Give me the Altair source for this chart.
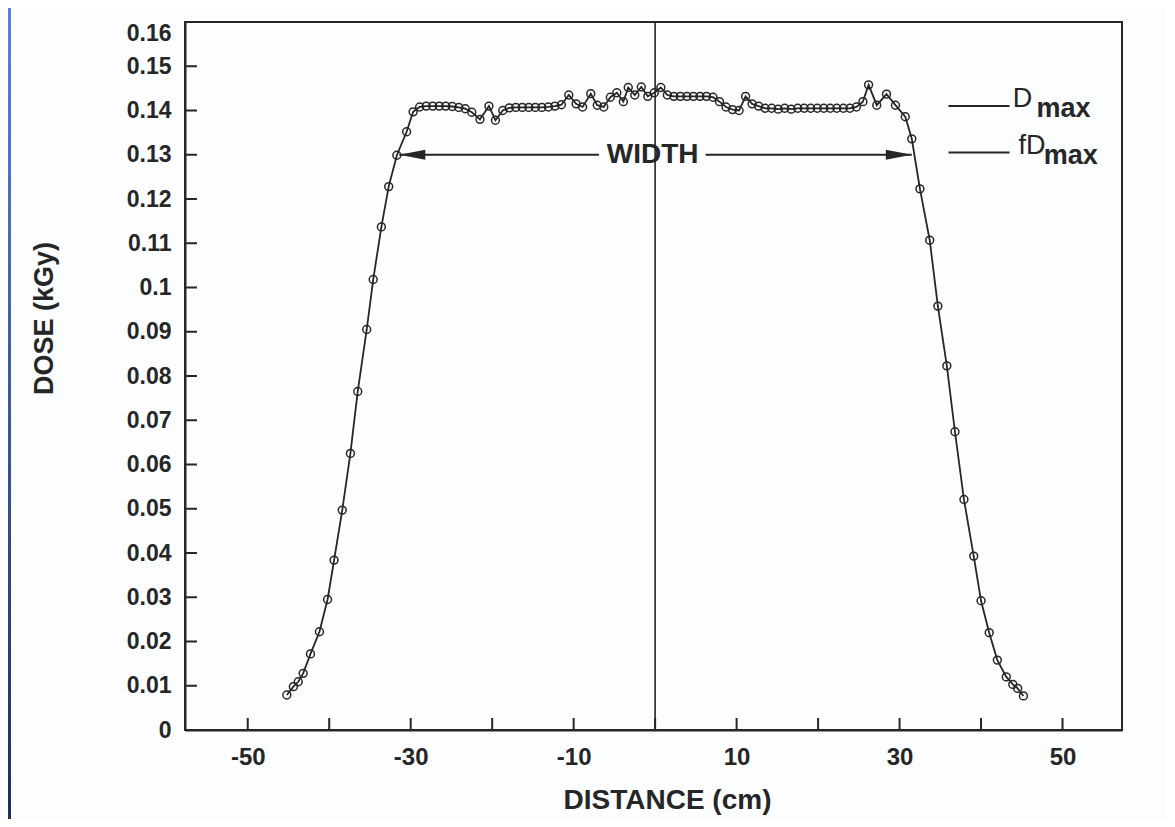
import altair as alt
import pandas as pd

# ---------------- data ----------------
distance = [
    -45.2, -44.4, -43.8, -43.2, -42.3, -41.2, -40.2, -39.4, -38.4, -37.4,
    -36.5, -35.4, -34.6, -33.6, -32.7, -31.7, -30.5, -29.7,
    -28.9, -28.1, -27.3, -26.5, -25.7, -24.9, -24.1, -23.3, -22.5, -21.5,
    -20.4, -19.6, -18.7, -17.9, -17.1, -16.3, -15.5, -14.7, -13.9, -13.1,
    -12.3, -11.5, -10.6, -9.7, -8.9, -7.9, -7.1, -6.3, -5.5, -4.7,
    -3.9, -3.3, -2.5, -1.7, -0.9, -0.1, 0.7, 1.5, 2.3, 3.1,
    3.9, 4.7, 5.5, 6.3, 7.1, 7.9, 8.7, 9.5, 10.3, 11.1,
    11.9, 12.7, 13.5, 14.3, 15.1, 15.9, 16.7, 17.5, 18.3, 19.1,
    19.9, 20.7, 21.5, 22.3, 23.1, 23.9, 24.7, 25.5, 26.2, 27.2,
    28.4, 29.5, 30.7, 31.5, 32.5, 33.7, 34.7, 35.8, 36.8, 37.9,
    39.1, 40.0, 41.0, 42.0, 43.1, 43.9, 44.5, 45.2,
]
dose = [
    0.0079, 0.0098, 0.0109, 0.0128, 0.0172, 0.0222, 0.0295, 0.0384, 0.0497, 0.0625,
    0.0765, 0.0905, 0.1018, 0.1137, 0.1228, 0.1299, 0.1352, 0.1397,
    0.1408, 0.1410, 0.1410, 0.1410, 0.1410, 0.1409, 0.1407, 0.1404, 0.1396, 0.1380,
    0.1410, 0.1378, 0.1400, 0.1406, 0.1407, 0.1407, 0.1407, 0.1407, 0.1407, 0.1408,
    0.1410, 0.1413, 0.1435, 0.1415, 0.1408, 0.1438, 0.1412, 0.1408, 0.1430, 0.1440,
    0.1420, 0.1452, 0.1435, 0.1453, 0.1432, 0.1440, 0.1452, 0.1435, 0.1432, 0.1432,
    0.1432, 0.1432, 0.1432, 0.1432, 0.1430, 0.1420, 0.1408, 0.1402, 0.1400, 0.1432,
    0.1415, 0.1410, 0.1405, 0.1405, 0.1403, 0.1405, 0.1403, 0.1405, 0.1405, 0.1405,
    0.1405, 0.1405, 0.1405, 0.1405, 0.1405, 0.1405, 0.1408, 0.1420, 0.1458, 0.1412,
    0.1437, 0.1412, 0.1386, 0.1336, 0.1223, 0.1107, 0.0958, 0.0823, 0.0674, 0.0521,
    0.0393, 0.0292, 0.0220, 0.0158, 0.0120, 0.0103, 0.0094, 0.0077,
]

x_tick_values = [-50, -40, -30, -20, -10, 0, 10, 20, 30, 40, 50]
x_label_values = [-50, -30, -10, 10, 30, 50]
y_tick_values = [0.0, 0.01, 0.02, 0.03, 0.04, 0.05, 0.06, 0.07, 0.08,
                 0.09, 0.1, 0.11, 0.12, 0.13, 0.14, 0.15, 0.16]
y_inner_ticks = [0.01, 0.02, 0.03, 0.04, 0.05, 0.06, 0.07, 0.08,
                 0.09, 0.1, 0.11, 0.12, 0.13, 0.14, 0.15]

d_max = 0.141
fd_max = 0.1305
width_level = 0.1300
width_left, width_right = -31.4, 31.5
width_gap_left, width_gap_right = -6.9, 6.2

# ---------------- styling ----------------
INK = "#262626"
FONT = "Liberation Sans"
W, H = 937, 708
XS = alt.Scale(domain=[-57.7, 57.3], nice=False, zero=False)
YS = alt.Scale(domain=[0, 0.16], nice=False, zero=False)

df = pd.DataFrame({"distance": distance, "dose": dose})

x_axis = alt.Axis(
    values=x_label_values, labelExpr="toString(datum.value)",
    ticks=False, tickSize=0, grid=False, domain=True, domainColor=INK, domainWidth=2,
    labelFont=FONT, labelFontSize=24, labelFontWeight="bold", labelColor=INK,
    labelPadding=15, labelFlush=False, labelOverlap=False,
    title="DISTANCE (cm)", titleFont=FONT, titleFontSize=28, titleFontWeight="bold",
    titleColor=INK, titleX=482, titleY=70, titleAlign="center", titleBaseline="middle",
)
y_axis = alt.Axis(
    values=y_tick_values, format="~g",
    ticks=False, tickSize=0, grid=False, domain=True, domainColor=INK, domainWidth=2,
    labelFont=FONT, labelFontSize=23, labelFontWeight="bold", labelColor=INK,
    labelPadding=14, labelFlush=False, labelOverlap=False,
    labelBaseline={"condition": {"test": "datum.value >= 0.155", "value": "top"}, "value": "middle"},
    title="DOSE (kGy)", titleFont=FONT, titleFontSize=27, titleFontWeight="bold",
    titleColor=INK, titleX=-141, titleY=296, titleAngle=270,
    titleAlign="center", titleBaseline="middle",
)


def X(field):
    return alt.X(field, scale=XS, axis=x_axis)


def Y(field):
    return alt.Y(field, scale=YS, axis=y_axis)


line = alt.Chart(df).mark_line(color=INK, strokeWidth=1.8).encode(
    x=X("distance:Q"), y=Y("dose:Q"),
)
points = alt.Chart(df).mark_point(
    shape="circle", filled=False, size=62, color=INK, strokeWidth=1.5, opacity=1
).encode(x=X("distance:Q"), y=Y("dose:Q"))

# inward ticks
yt = alt.Chart(pd.DataFrame({"v": y_inner_ticks})).mark_rule(color=INK, strokeWidth=2).encode(
    y=Y("v:Q"), x=alt.value(0), x2=alt.value(12)
)
xt = alt.Chart(pd.DataFrame({"v": x_tick_values})).mark_rule(color=INK, strokeWidth=2).encode(
    x=X("v:Q"), y=alt.value(H), y2=alt.value(H - 12)
)

# vertical centre line
vline = alt.Chart(pd.DataFrame({"x": [0], "y0": [0.0], "y1": [0.16]})).mark_rule(
    color=INK, strokeWidth=1.6
).encode(x=X("x:Q"), y=Y("y0:Q"), y2="y1:Q")

# WIDTH arrow
arrow_lines = alt.Chart(pd.DataFrame({
    "x0": [width_left, width_gap_right], "x1": [width_gap_left, width_right],
    "y": [width_level, width_level]})).mark_rule(color=INK, strokeWidth=2).encode(
    x=X("x0:Q"), x2="x1:Q", y=Y("y:Q"),
)
arrow_r = alt.Chart(pd.DataFrame({"x": [width_right], "y": [width_level]})).mark_point(
    shape="M0,0L-2,-0.38L-2,0.38Z", filled=True, size=676, color=INK, opacity=1
).encode(x=X("x:Q"), y=Y("y:Q"))
arrow_l = alt.Chart(pd.DataFrame({"x": [width_left], "y": [width_level]})).mark_point(
    shape="M0,0L2,-0.38L2,0.38Z", filled=True, size=676, color=INK, opacity=1
).encode(x=X("x:Q"), y=Y("y:Q"))
width_text = alt.Chart(pd.DataFrame({"x": [-0.3], "y": [width_level], "t": ["WIDTH"]})).mark_text(
    font=FONT, fontSize=28, fontWeight="bold", color=INK, align="center", baseline="middle"
).encode(x=X("x:Q"), y=Y("y:Q"), text="t:N")

# Dmax / fDmax markers
ref_lines = alt.Chart(pd.DataFrame({"x0": [36.0, 36.0], "x1": [43.5, 43.5],
                                    "y": [d_max, fd_max]})).mark_rule(color=INK, strokeWidth=2).encode(
    x=X("x0:Q"), x2="x1:Q", y=Y("y:Q")
)
main_lbl = alt.Chart(pd.DataFrame({"x": [43.9, 44.6], "y": [d_max, fd_max], "t": ["D", "fD"]})).mark_text(
    font=FONT, fontSize=27, color=INK, align="left", baseline="alphabetic", dy=1
).encode(x=X("x:Q"), y=Y("y:Q"), text="t:N")
sub_lbl = alt.Chart(pd.DataFrame({"x": [46.8, 47.7], "y": [d_max, fd_max], "t": ["max", "max"]})).mark_text(
    font=FONT, fontSize=27, fontWeight=600, color=INK, align="left", baseline="alphabetic", dy=11
).encode(x=X("x:Q"), y=Y("y:Q"), text="t:N")

# slide frame strip on the left
strip = alt.Chart(pd.DataFrame({"a": [0]})).mark_rect(
    color=alt.LinearGradient(gradient="linear", x1=0, y1=0, x2=0, y2=1,
                             stops=[alt.GradientStop(offset=0, color="#5b80e0"),
                                    alt.GradientStop(offset=1, color="#1f2d5a")])
).encode(x=alt.value(-177), x2=alt.value(-174), y=alt.value(-14), y2=alt.value(H + 89))

chart = alt.layer(
    line, points, vline, arrow_lines, arrow_l, arrow_r, width_text, ref_lines, main_lbl, sub_lbl,
    yt, xt, strip,
).properties(
    width=W, height=H,
    autosize=alt.AutoSizeParams(type="none"),
    padding={"left": 177, "top": 14, "right": 45, "bottom": 89},
    background="#fcfdff",
).configure_view(stroke=INK, strokeWidth=2)

chart.save("out.html", embed_options={"renderer": "svg", "actions": False})
